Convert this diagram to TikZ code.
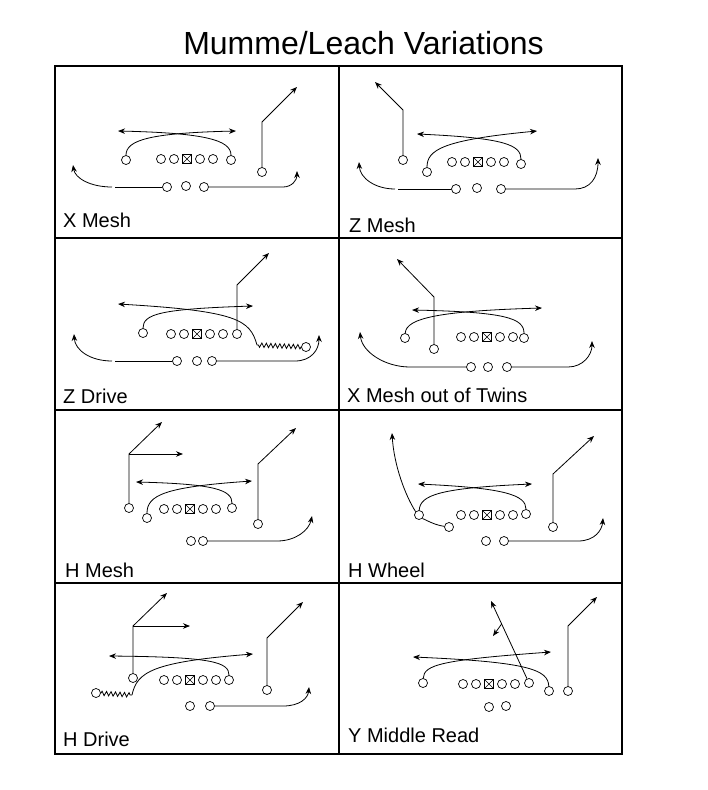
\documentclass[tikz,border=0pt]{standalone}
\usepackage{fontspec}
\setmainfont{Liberation Sans}
\usetikzlibrary{positioning}
\usetikzlibrary{arrows.meta}
\usetikzlibrary{decorations.pathmorphing}
\tikzset{
    plyr/.style = {circle, draw=black, fill=white, inner sep=0pt, minimum size=9pt, line width=0.7pt},
    cntr/.style = {rectangle, draw=black, fill=white, inner sep=0pt, minimum size=9pt, line width=0.7pt,
        path picture={\draw[line width=0.5pt] (path picture bounding box.north west) -- (path picture bounding box.south east)
                      (path picture bounding box.north east) -- (path picture bounding box.south west);}},
    rte/.style = {-{Stealth[length=7pt,width=5.5pt]}, line width=0.8pt},
    rtn/.style = {line width=0.8pt},
    zz/.style = {line width=0.8pt, decorate, decoration={zigzag, segment length=4.5pt, amplitude=2.2pt}},
    cellline/.style = {line width=2pt},
    lbl/.style = {anchor=base west, inner sep=0pt, font=\fontsize{20}{24}\selectfont},
    ttl/.style = {anchor=base, inner sep=0pt, font=\fontsize{32}{38}\selectfont}
}
% offensive line: name, x, y of the center
\newcommand{\OL}[3]{%
  \node[plyr] at (#2-26,#3) (#1a) {};
  \node[plyr] at (#2-13,#3) (#1b) {};
  \node[cntr] at (#2,#3) (#1c) {};
  \node[plyr] at (#2+13,#3) (#1d) {};
  \node[plyr] at (#2+26,#3) (#1e) {};
}

\begin{document}
\begin{tikzpicture}[x=1pt,y=-1pt]
\useasboundingbox (0,0) rectangle (707,790);
\node[ttl] at (363.5,54) (title) {Mumme/Leach Variations};
\draw[cellline] (55,66) rectangle (622,754);
\draw[cellline] (338.5,66) -- (338.5,754);
\draw[cellline] (55,238) -- (622,238);
\draw[cellline] (55,410) -- (622,410);
\draw[cellline] (55,582.5) -- (622,582.5);
%
\node[lbl] at (63,227) (lxm) {X Mesh};
\node[lbl] at (349,232) (lzm) {Z Mesh};
\node[lbl] at (63,403) (lzd) {Z Drive};
\node[lbl] at (347,402) (lxt) {X Mesh out of Twins};
\node[lbl] at (65,577) (lhm) {H Mesh};
\node[lbl] at (348,577) (lhw) {H Wheel};
\node[lbl] at (63,746) (lhd) {H Drive};
\node[lbl] at (348,742) (lym) {Y Middle Read};

%%% X Mesh
\OL{xm}{187}{159}
\node[plyr] at (126,160) (xmy) {};
\node[plyr] at (231,160) (xmh) {};
\node[plyr] at (262,172) (xmz) {};
\node[plyr] at (167,187) (xmb1) {};
\node[plyr] at (186,186) (xmb2) {};
\node[plyr] at (204,187) (xmb3) {};
\coordinate (xmz1) at (262,122);
\coordinate (xmz2) at (297,87);
\coordinate (xmt1) at (236,131);
\coordinate (xmt2) at (118,131);
\coordinate (xmg1) at (115,187);
\coordinate (xmg2) at (112,187);
\coordinate (xmt3) at (73,165);
\coordinate (xmr1) at (283,187);
\coordinate (xmt4) at (297,171);
\draw[rte] (xmy) .. controls (126,140) and (150,133) .. (xmt1);
\draw[rte] (xmh) .. controls (231,140) and (205,133) .. (xmt2);
\draw[rte] (xmz) -- (xmz1) -- (xmz2);
\draw[rtn] (xmb1) -- (xmg1);
\draw[rte] (xmg2) .. controls (90,187) and (75,178) .. (xmt3);
\draw[rte] (xmb3) -- (xmr1) .. controls (292,187) and (297,180) .. (xmt4);

%%% Z Mesh
\OL{zm}{478}{162}
\node[plyr] at (403,160) (zmx) {};
\node[plyr] at (427,172) (zmy) {};
\node[plyr] at (521,164) (zmh) {};
\node[plyr] at (456,189) (zmb1) {};
\node[plyr] at (477,188) (zmb2) {};
\node[plyr] at (501,189) (zmb3) {};
\coordinate (zmx1) at (403,110);
\coordinate (zmx2) at (375,82);
\coordinate (zmt1) at (537,131);
\coordinate (zmt2) at (417,134);
\coordinate (zmg1) at (398,189);
\coordinate (zmg2) at (395,189);
\coordinate (zmt3) at (359,162);
\coordinate (zmr1) at (575,189);
\coordinate (zmt4) at (598,158);
\draw[rte] (zmx) -- (zmx1) -- (zmx2);
\draw[rte] (zmy) .. controls (427,150) and (442,140) .. (zmt1);
\draw[rte] (zmh) .. controls (521,145) and (505,138) .. (zmt2);
\draw[rtn] (zmb1) -- (zmg1);
\draw[rte] (zmg2) .. controls (375,189) and (360,178) .. (zmt3);
\draw[rte] (zmb3) -- (zmr1) .. controls (590,189) and (598,178) .. (zmt4);

%%% Z Drive
\OL{zd}{197}{334}
\node[plyr] at (143,333) (zdy) {};
\node[plyr] at (237,334) (zdh) {};
\node[plyr] at (306,347) (zdz) {};
\node[plyr] at (177,361) (zdb1) {};
\node[plyr] at (197,361) (zdb2) {};
\node[plyr] at (212,361) (zdb3) {};
\coordinate (zdt1) at (253,306);
\coordinate (zdh1) at (237,285);
\coordinate (zdh2) at (269,253);
\coordinate (zdw) at (257,345);
\coordinate (zdt2) at (118,304);
\coordinate (zdg1) at (115,361);
\coordinate (zdg2) at (112,361);
\coordinate (zdt3) at (74,334);
\coordinate (zdr1) at (295,361);
\coordinate (zdt4) at (319,335);
\draw[rte] (zdy) .. controls (143,314) and (160,309) .. (zdt1);
\draw[rte] (zdh) -- (zdh1) -- (zdh2);
\draw[zz] (zdz) -- (zdw);
\draw[rte] (zdw) .. controls (250,320) and (238,311) .. (zdt2);
\draw[rtn] (zdb1) -- (zdg1);
\draw[rte] (zdg2) .. controls (90,361) and (75,350) .. (zdt3);
\draw[rte] (zdb3) -- (zdr1) .. controls (311,361) and (319,350) .. (zdt4);

%%% X Mesh out of Twins
\OL{xt}{487}{337}
\node[plyr] at (405,338) (xty) {};
\node[plyr] at (434,349) (xts) {};
\node[plyr] at (524,338) (xth) {};
\node[plyr] at (471,367) (xtb1) {};
\node[plyr] at (488,367) (xtb2) {};
\node[plyr] at (507,367) (xtb3) {};
\coordinate (xtt1) at (542,308);
\coordinate (xts1) at (434,297);
\coordinate (xts2) at (397,259);
\coordinate (xtt2) at (412,310);
\coordinate (xtl1) at (410,367);
\coordinate (xtt3) at (360,332);
\coordinate (xtr1) at (568,367);
\coordinate (xtt4) at (592,341);
\draw[rte] (xty) .. controls (406,318) and (440,311) .. (xtt1);
\draw[rte] (xts) -- (xts1) -- (xts2);
\draw[rte] (xth) .. controls (524,318) and (505,312) .. (xtt2);
\draw[rte] (xtb1) -- (xtl1) .. controls (385,367) and (362,352) .. (xtt3);
\draw[rte] (xtb3) -- (xtr1) .. controls (583,367) and (592,355) .. (xtt4);

%%% H Mesh
\OL{hm}{190}{509}
\node[plyr] at (129,508) (hmx) {};
\node[plyr] at (147,518) (hmh) {};
\node[plyr] at (232,508) (hmy) {};
\node[plyr] at (258,524) (hmz) {};
\node[plyr] at (191,541) (hmb1) {};
\node[plyr] at (203,541) (hmb2) {};
\coordinate (hmx1) at (129,454);
\coordinate (hmx2) at (162,422);
\coordinate (hmx3) at (183,454);
\coordinate (hmt1) at (252,481);
\coordinate (hmt2) at (136,482);
\coordinate (hmz1) at (258,464);
\coordinate (hmz2) at (296,428);
\coordinate (hmr1) at (277,541);
\coordinate (hmt3) at (312,516);
\draw[rte] (hmx) -- (hmx1) -- (hmx2);
\draw[rte] (hmx1) -- (hmx3);
\draw[rte] (hmh) .. controls (147,495) and (165,487) .. (hmt1);
\draw[rte] (hmy) .. controls (232,490) and (215,484) .. (hmt2);
\draw[rte] (hmz) -- (hmz1) -- (hmz2);
\draw[rte] (hmb2) -- (hmr1) .. controls (296,541) and (309,530) .. (hmt3);

%%% H Wheel
\OL{hw}{487}{515}
\node[plyr] at (419,515) (hwy) {};
\node[plyr] at (449,527) (hwh) {};
\node[plyr] at (526,514) (hwx) {};
\node[plyr] at (553,527) (hwz) {};
\node[plyr] at (486,541) (hwb1) {};
\node[plyr] at (504,541) (hwb2) {};
\coordinate (hwt1) at (532,484);
\coordinate (hwt2) at (418,484);
\coordinate (hwt3) at (392,433);
\coordinate (hwz1) at (553,474);
\coordinate (hwz2) at (594,436);
\coordinate (hwr1) at (578,541);
\coordinate (hwt4) at (603,518);
\draw[rte] (hwy) .. controls (420,495) and (440,488) .. (hwt1);
\draw[rte] (hwx) .. controls (526,495) and (505,488) .. (hwt2);
\draw[rtn] (hwh) .. controls (435,525) and (428,521) .. (hwy.south east);
\draw[rte] (hwy.north west) .. controls (405,495) and (394,465) .. (hwt3);
\draw[rte] (hwz) -- (hwz1) -- (hwz2);
\draw[rte] (hwb2) -- (hwr1) .. controls (595,541) and (602,530) .. (hwt4);

%%% H Drive
\OL{hd}{190}{680}
\node[plyr] at (133,678) (hdx) {};
\node[plyr] at (96,693) (hdh) {};
\node[plyr] at (229,680) (hdy) {};
\node[plyr] at (267,690) (hdz) {};
\node[plyr] at (190,706) (hdb1) {};
\node[plyr] at (210,706) (hdb2) {};
\coordinate (hdx1) at (133,626);
\coordinate (hdx2) at (167,593);
\coordinate (hdx3) at (190,626);
\coordinate (hdw) at (132,695);
\coordinate (hdt1) at (253,654);
\coordinate (hdt2) at (109,656);
\coordinate (hdz1) at (267,638);
\coordinate (hdz2) at (303,602);
\coordinate (hdr1) at (283,706);
\coordinate (hdt3) at (309,687);
\draw[rte] (hdx) -- (hdx1) -- (hdx2);
\draw[rte] (hdx1) -- (hdx3);
\draw[zz] (hdh) -- (hdw);
\draw[rte] (hdw) .. controls (137,672) and (152,662) .. (hdt1);
\draw[rte] (hdy) .. controls (229,662) and (212,657) .. (hdt2);
\draw[rte] (hdz) -- (hdz1) -- (hdz2);
\draw[rte] (hdb2) -- (hdr1) .. controls (300,706) and (308,698) .. (hdt3);

%%% Y Middle Read
\OL{ym}{489}{684}
\node[plyr] at (423,683) (ymx) {};
\node[plyr] at (529,683) (ymy) {};
\node[plyr] at (549,691) (ymh) {};
\node[plyr] at (568,691) (ymz) {};
\node[plyr] at (489,707) (ymb1) {};
\node[plyr] at (506,706) (ymb2) {};
\coordinate (ymt1) at (551,652);
\coordinate (ymt2) at (491,601);
\coordinate (ymm) at (501.6,624);
\coordinate (ymt3) at (493,636);
\coordinate (ymt4) at (413,657);
\coordinate (ymz1) at (568,626);
\coordinate (ymz2) at (597,597);
\draw[rte] (ymx) .. controls (424,665) and (440,660) .. (ymt1);
\draw[rte] (ymy) -- (ymt2);
\draw[rte] (ymm) -- (ymt3);
\draw[rte] (ymh) .. controls (548,670) and (530,662) .. (ymt4);
\draw[rte] (ymz) -- (ymz1) -- (ymz2);

%%% 8
\end{tikzpicture}
\end{document}
